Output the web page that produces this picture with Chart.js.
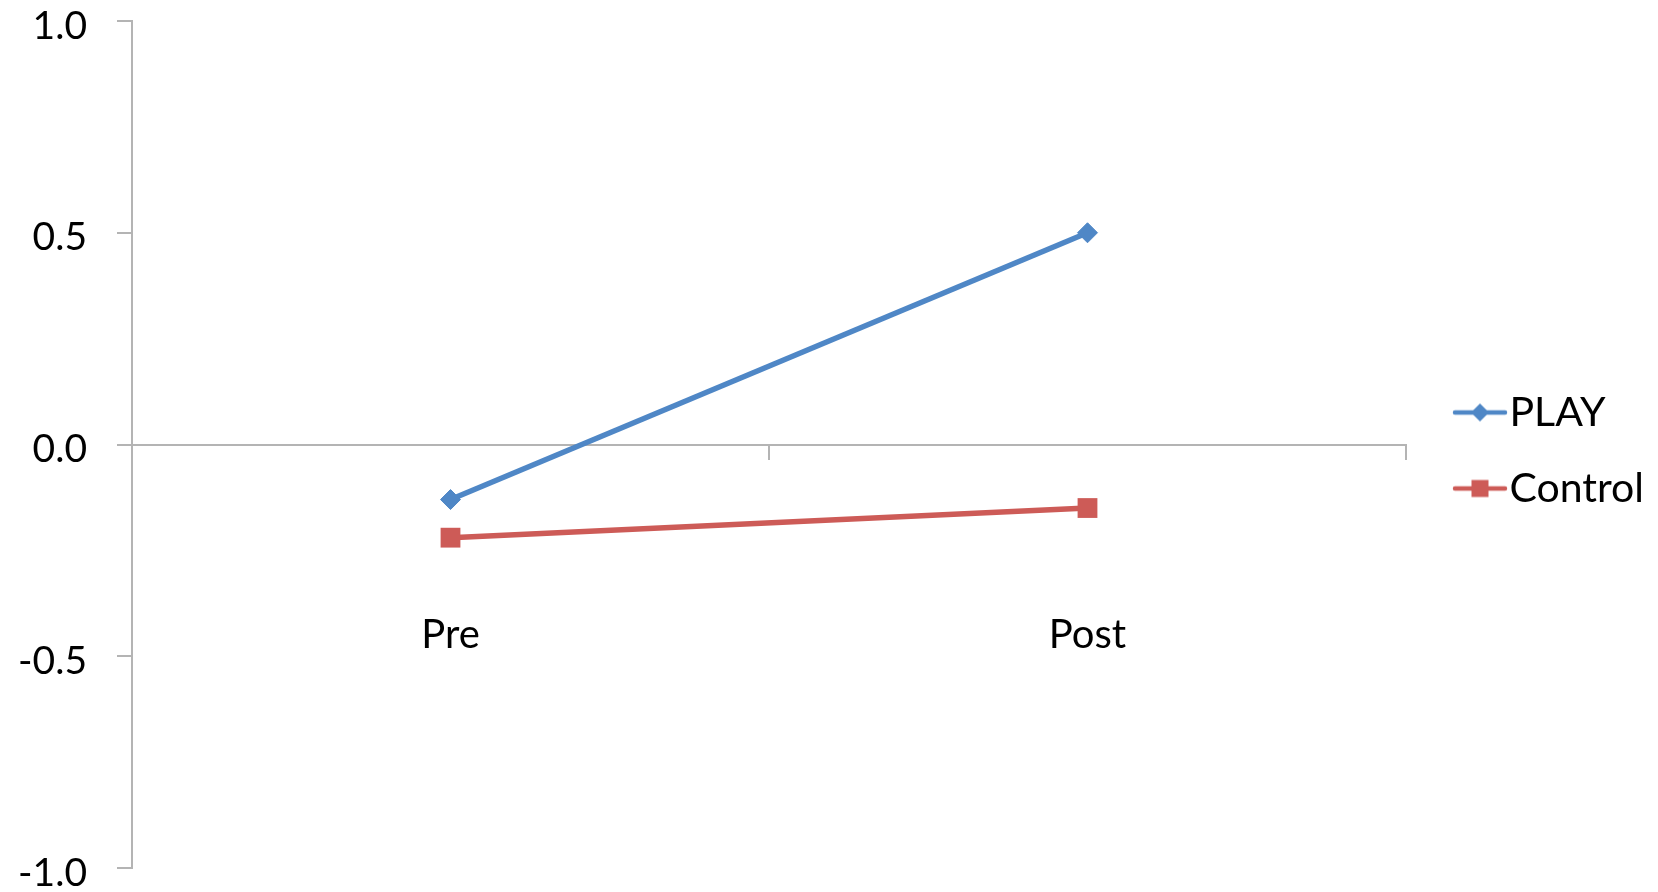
<!DOCTYPE html>
<html>
<head>
<meta charset="utf-8">
<script src="https://cdn.jsdelivr.net/npm/chart.js@4/dist/chart.umd.min.js"></script>
<style>
  html, body { margin: 0; padding: 0; background: #fff; }
  #wrap { width: 1658px; height: 892px; position: relative; }
</style>
</head>
<body>
<div id="wrap"><canvas id="chart"></canvas></div>
<script>
// Time points and group means
const categories = ['Pre', 'Post'];
const playValues = [-0.13, 0.50];
const controlValues = [-0.22, -0.15];
const seriesNames = ['PLAY', 'Control'];
const yTicks = [-1.0, -0.5, 0.0, 0.5, 1.0];

const BLUE = '#4F87C6';
const RED = '#CD5B57';
const AXIS = '#B4B4B4';
const FONT = 'Lato';
const LEGEND_FONT = 41;

// Legend sample: a short line with the series marker in its middle
function legendSample(color, style) {
  const c = document.createElement('canvas');
  c.width = 86; c.height = 24;
  const g = c.getContext('2d');
  g.strokeStyle = color;
  g.lineWidth = 4.5;
  g.lineCap = 'round';
  g.beginPath();
  g.moveTo(33, 12);
  g.lineTo(83, 12);
  g.stroke();
  g.fillStyle = color;
  const cx = 58;
  g.beginPath();
  if (style === 'diamond') {
    g.moveTo(cx - 9, 12); g.lineTo(cx, 3); g.lineTo(cx + 9, 12); g.lineTo(cx, 21);
    g.closePath();
  } else {
    g.rect(cx - 8.5, 3.5, 17, 17);
  }
  g.fill();
  return c;
}
const samples = [legendSample(BLUE, 'diamond'), legendSample(RED, 'square')];

// Reserve a fixed strip on the right for the legend
const LEGEND_STRIP = 252;
const LEGEND_PAD = 35;
const SAMPLE_W = 48;
const mctx = document.createElement('canvas').getContext('2d');
mctx.font = LEGEND_FONT + 'px ' + FONT;
const textW = Math.max(...seriesNames.map(s => mctx.measureText(s).width));
const legendW = LEGEND_PAD + SAMPLE_W + LEGEND_FONT / 2 + textW + 10;
const padRight = Math.max(0, LEGEND_STRIP - legendW);

new Chart(document.getElementById('chart'), {
  type: 'line',
  data: {
    labels: categories,
    datasets: [
      {
        label: seriesNames[0],
        data: playValues,
        borderColor: BLUE,
        backgroundColor: BLUE,
        borderWidth: 5.5,
        pointStyle: 'rectRot',
        pointRadius: 10,
        pointBorderWidth: 1,
        tension: 0
      },
      {
        label: seriesNames[1],
        data: controlValues,
        borderColor: RED,
        backgroundColor: RED,
        borderWidth: 5.5,
        pointStyle: 'rect',
        pointRadius: 14,
        pointBorderWidth: 0,
        tension: 0
      }
    ]
  },
  options: {
    responsive: true,
    maintainAspectRatio: false,
    animation: false,
    layout: { padding: { left: 0, top: 21, bottom: 24, right: padRight } },
    plugins: {
      tooltip: { enabled: false },
      legend: {
        position: 'right',
        align: 'center',
        maxWidth: LEGEND_STRIP,
        // empty title block nudges the entries slightly downward
        title: { display: true, text: '', padding: 0, font: { size: 10, lineHeight: 1.2 } },
        labels: {
          font: { family: FONT, size: LEGEND_FONT },
          color: '#000',
          padding: LEGEND_PAD,
          usePointStyle: true,
          pointStyleWidth: SAMPLE_W,
          generateLabels(chart) {
            const items = Chart.defaults.plugins.legend.labels.generateLabels(chart);
            items.forEach((it, i) => { it.pointStyle = samples[i]; });
            return items;
          }
        }
      }
    },
    scales: {
      x: {
        type: 'category',
        position: { y: 0 },
        offset: true,
        grid: {
          drawOnChartArea: false,
          drawTicks: true,
          tickLength: 14,
          color: AXIS,
          lineWidth: 2,
          offset: true
        },
        border: { display: true, color: AXIS, width: 2 },
        ticks: {
          font: { family: FONT, size: 40 },
          color: '#000',
          padding: 153,
          maxRotation: 0,
          autoSkip: false
        },
        afterFit(scale) {
          scale.height = 0;
          scale.paddingLeft = 0;
          scale.paddingRight = 0;
        }
      },
      y: {
        min: yTicks[0],
        max: yTicks[yTicks.length - 1],
        afterBuildTicks(scale) {
          scale.ticks = yTicks.map(v => ({ value: v }));
        },
        grid: {
          drawOnChartArea: false,
          drawTicks: true,
          tickLength: 15,
          color: AXIS,
          lineWidth: 2
        },
        border: { display: true, color: AXIS, width: 2 },
        ticks: {
          font: { family: FONT, size: 39, lineHeight: 1 },
          color: '#000',
          padding: 30,
          labelOffset: 5,
          callback: v => Number(v).toFixed(1)
        },
        afterFit(scale) {
          scale.width = 132;
          scale.paddingTop = 0;
          scale.paddingBottom = 0;
        }
      }
    }
  }
});
</script>
</body>
</html>
